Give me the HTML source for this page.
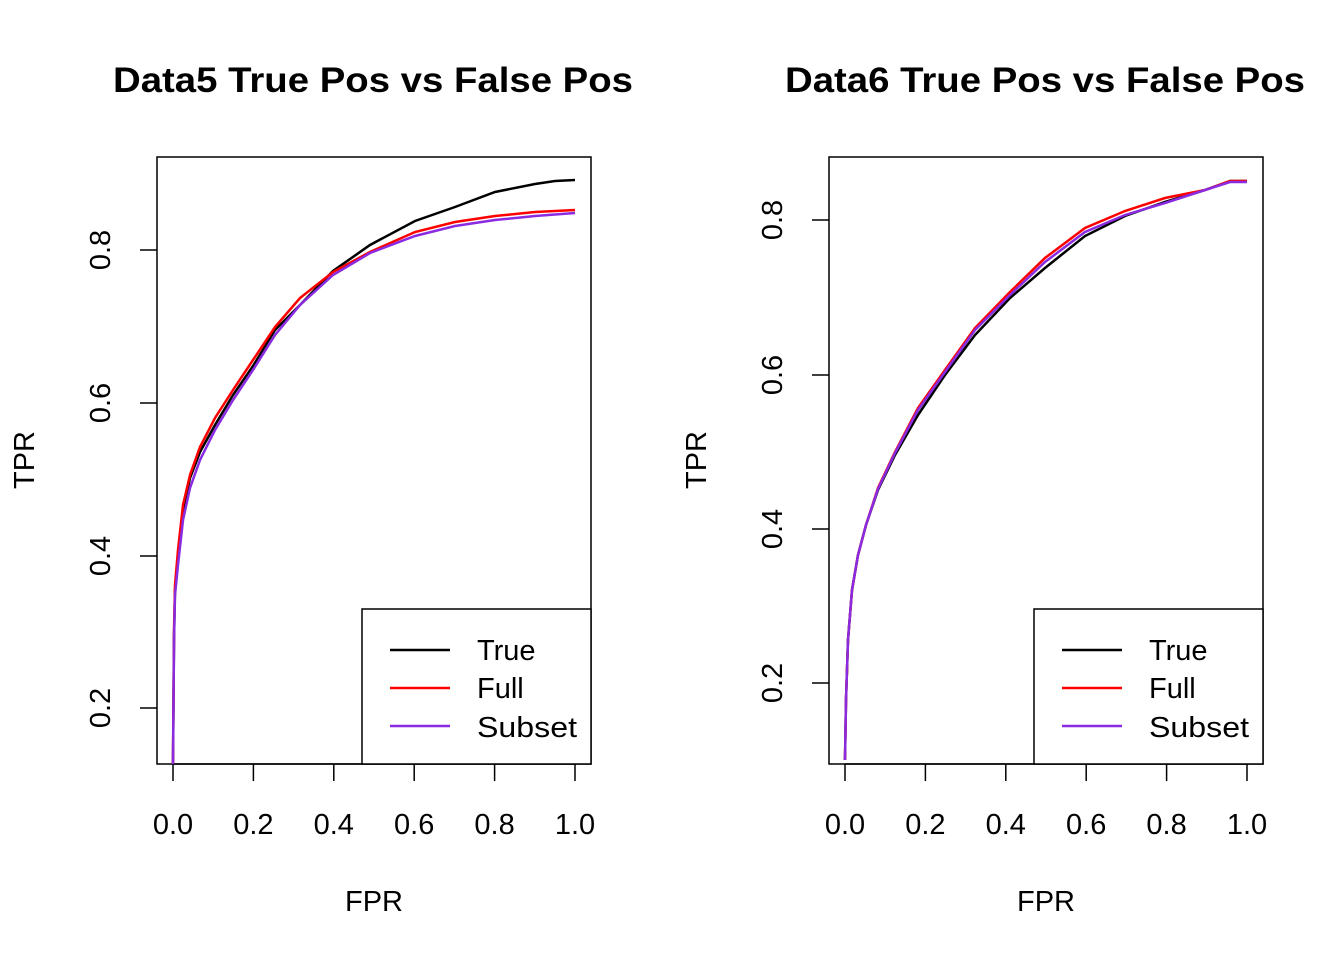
<!DOCTYPE html>
<html><head><meta charset="utf-8"><style>body{margin:0;background:#fff}</style></head><body>
<svg width="1344" height="960" xmlns="http://www.w3.org/2000/svg" font-family="Liberation Sans, Arial, sans-serif">
<rect width="1344" height="960" fill="#fff"/>
<!-- LEFT -->
<text x="113" y="92" font-size="35" font-weight="bold" textLength="520" lengthAdjust="spacingAndGlyphs">Data5 True Pos vs False Pos</text>
<rect x="157" y="157" width="434" height="607" fill="none" stroke="#000" stroke-width="1.5"/>
<g stroke="#000" stroke-width="1.5">
<line x1="173" y1="764" x2="575" y2="764"/>
<line x1="173" y1="764" x2="173" y2="781"/><line x1="253.4" y1="764" x2="253.4" y2="781"/><line x1="333.8" y1="764" x2="333.8" y2="781"/><line x1="414.2" y1="764" x2="414.2" y2="781"/><line x1="494.6" y1="764" x2="494.6" y2="781"/><line x1="575" y1="764" x2="575" y2="781"/>
<line x1="157" y1="250" x2="140" y2="250"/><line x1="157" y1="403" x2="140" y2="403"/><line x1="157" y1="556" x2="140" y2="556"/><line x1="157" y1="708" x2="140" y2="708"/>
</g>
<g font-size="29" text-anchor="middle">
<text x="173" y="834">0.0</text><text x="253.4" y="834">0.2</text><text x="333.8" y="834">0.4</text><text x="414.2" y="834">0.6</text><text x="494.6" y="834">0.8</text><text x="575" y="834">1.0</text>
<text x="374" y="911">FPR</text>
<text transform="translate(110,250) rotate(-90)">0.8</text>
<text transform="translate(110,403) rotate(-90)">0.6</text>
<text transform="translate(110,556) rotate(-90)">0.4</text>
<text transform="translate(110,708) rotate(-90)">0.2</text>
<text transform="translate(34,460) rotate(-90)">TPR</text>
</g>
<g fill="none" stroke-width="2.5">
<polyline stroke="#000" points="173,764 174,640 175,590 178,560 183,510 190,478 200,452 215,425 233,395 253,366 275,330 300,305 333,271 370,245 415,221 455,207 495,192 535,184 555,181 575,180"/>
<polyline stroke="#f00" points="173,764 174,630 175,585 178,550 183,505 190,475 200,447 215,418 233,390 253,360 275,327 300,298 333,272 370,252 415,232 455,222 495,216 535,212 575,210"/>
<polyline stroke="#8a2be2" points="173,764 174,640 175,595 178,565 183,520 190,488 200,460 215,430 233,400 253,370 275,335 300,305 333,275 370,253 415,236 455,226 495,220 535,216 575,213"/>
</g>
<rect x="362" y="609" width="229" height="155" fill="#fff" stroke="#000" stroke-width="1.5"/>
<g stroke-width="2.5"><line x1="390" y1="650" x2="450" y2="650" stroke="#000"/><line x1="390" y1="688" x2="450" y2="688" stroke="#f00"/><line x1="390" y1="726" x2="450" y2="726" stroke="#8a2be2"/></g>
<g font-size="29"><text x="477" y="660">True</text><text x="477" y="698">Full</text><text x="477" y="737" textLength="100" lengthAdjust="spacingAndGlyphs">Subset</text></g>
<!-- RIGHT -->
<text x="785" y="92" font-size="35" font-weight="bold" textLength="520" lengthAdjust="spacingAndGlyphs">Data6 True Pos vs False Pos</text>
<rect x="829" y="157" width="434" height="607" fill="none" stroke="#000" stroke-width="1.5"/>
<g stroke="#000" stroke-width="1.5">
<line x1="845" y1="764" x2="1247" y2="764"/>
<line x1="845" y1="764" x2="845" y2="781"/><line x1="925.4" y1="764" x2="925.4" y2="781"/><line x1="1005.8" y1="764" x2="1005.8" y2="781"/><line x1="1086.2" y1="764" x2="1086.2" y2="781"/><line x1="1166.6" y1="764" x2="1166.6" y2="781"/><line x1="1247" y1="764" x2="1247" y2="781"/>
<line x1="829" y1="220" x2="812" y2="220"/><line x1="829" y1="375" x2="812" y2="375"/><line x1="829" y1="529" x2="812" y2="529"/><line x1="829" y1="683" x2="812" y2="683"/>
</g>
<g font-size="29" text-anchor="middle">
<text x="845" y="834">0.0</text><text x="925.4" y="834">0.2</text><text x="1005.8" y="834">0.4</text><text x="1086.2" y="834">0.6</text><text x="1166.6" y="834">0.8</text><text x="1247" y="834">1.0</text>
<text x="1046" y="911">FPR</text>
<text transform="translate(782,220) rotate(-90)">0.8</text>
<text transform="translate(782,375) rotate(-90)">0.6</text>
<text transform="translate(782,529) rotate(-90)">0.4</text>
<text transform="translate(782,683) rotate(-90)">0.2</text>
<text transform="translate(706,460) rotate(-90)">TPR</text>
</g>
<g fill="none" stroke-width="2.5">
<polyline stroke="#000" points="845,760 846,700 848,640 852,590 858,555 866,525 878,490 895,455 918,415 945,375 975,335 1010,298 1045,268 1085,236 1125,216 1165,202 1205,190 1230,181 1247,181"/>
<polyline stroke="#f00" points="845,760 846,700 848,640 852,590 858,555 866,525 878,488 895,452 918,408 945,370 975,328 1010,292 1045,258 1085,228 1125,211 1165,198 1205,190 1230,181 1247,181"/>
<polyline stroke="#8a2be2" points="845,760 846,700 848,640 852,590 858,555 866,525 878,489 895,453 918,410 945,372 975,330 1010,295 1045,262 1085,232 1125,215 1165,203 1205,190 1230,182 1247,182"/>
</g>
<rect x="1034" y="609" width="229" height="155" fill="#fff" stroke="#000" stroke-width="1.5"/>
<g stroke-width="2.5"><line x1="1062" y1="650" x2="1122" y2="650" stroke="#000"/><line x1="1062" y1="688" x2="1122" y2="688" stroke="#f00"/><line x1="1062" y1="726" x2="1122" y2="726" stroke="#8a2be2"/></g>
<g font-size="29"><text x="1149" y="660">True</text><text x="1149" y="698">Full</text><text x="1149" y="737" textLength="100" lengthAdjust="spacingAndGlyphs">Subset</text></g>
</svg>
</body></html>
